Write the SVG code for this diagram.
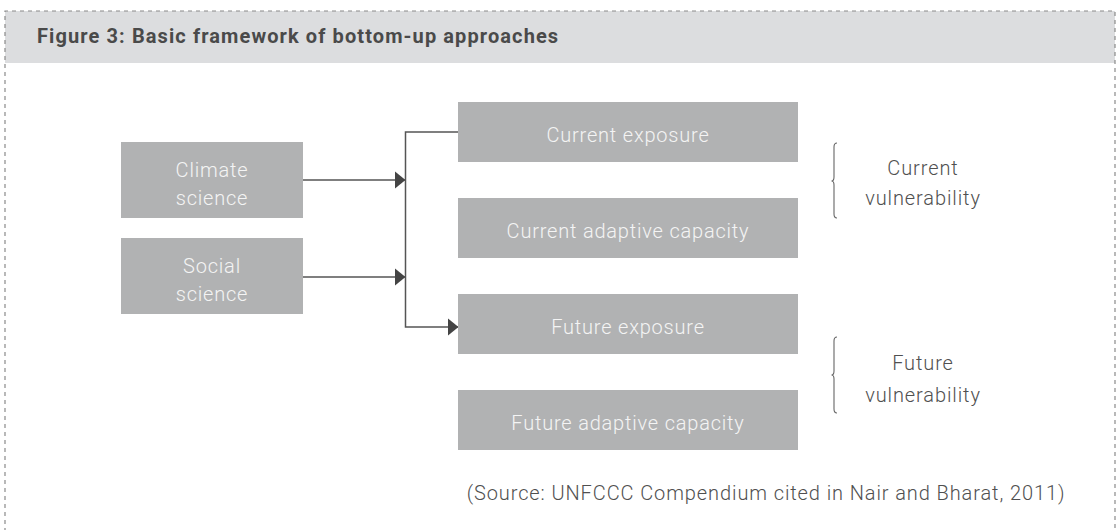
<svg xmlns="http://www.w3.org/2000/svg" width="1118" height="530" viewBox="0 0 1118 530">
<defs>
<style>
.box{fill:#b1b2b3}
.bt{font-family:Roboto,"Liberation Sans",sans-serif;font-weight:300;font-size:20px;letter-spacing:0.8px;fill:#f4f4f4;text-anchor:middle}
.lt{font-family:Roboto,"Liberation Sans",sans-serif;font-weight:300;font-size:20px;letter-spacing:0.9px;fill:#505050;text-anchor:middle}
.conn{fill:none;stroke:#555;stroke-width:1.5}
.brace{fill:none;stroke:#666;stroke-width:1.1}
</style>
<marker id="ah" viewBox="0 0 11 18" refX="10.5" refY="9" markerWidth="11" markerHeight="18" markerUnits="userSpaceOnUse" orient="auto">
<path d="M0,0 L11,9 L0,18 Z" fill="#444"/>
</marker>
</defs>
<rect x="0" y="0" width="1118" height="530" fill="#fff"/>
<g id="frame">
<rect x="5" y="11" width="1110" height="52" fill="#dcdddf"/>
<path d="M5,540 V11 H1115 V540" fill="none" stroke="#8a8a8a" stroke-width="1.2" stroke-dasharray="4 4"/>
<text x="37" y="43" style="font-family:Roboto,'Liberation Sans',sans-serif;font-weight:700;font-size:20px;letter-spacing:1.1px;fill:#4a4a4a">Figure 3: Basic framework of bottom-up approaches</text>
</g>
<g id="connectors">
<line class="conn" x1="303" y1="180" x2="405" y2="180" marker-end="url(#ah)"/>
<line class="conn" x1="303" y1="277" x2="405" y2="277" marker-end="url(#ah)"/>
<path class="conn" d="M458,132 H405.5 V327 H458" marker-end="url(#ah)"/>
</g>
<g id="climate-science">
<rect class="box" x="121" y="142" width="182" height="76"/>
<text class="bt" x="212" y="177">Climate</text>
<text class="bt" x="212" y="205">science</text>
</g>
<g id="social-science">
<rect class="box" x="121" y="238" width="182" height="76"/>
<text class="bt" x="212" y="273">Social</text>
<text class="bt" x="212" y="301">science</text>
</g>
<g id="current-exposure">
<rect class="box" x="458" y="102" width="340" height="60"/>
<text class="bt" x="628" y="142">Current exposure</text>
</g>
<g id="current-adaptive-capacity">
<rect class="box" x="458" y="198" width="340" height="60"/>
<text class="bt" x="628" y="238">Current adaptive capacity</text>
</g>
<g id="future-exposure">
<rect class="box" x="458" y="294" width="340" height="60"/>
<text class="bt" x="628" y="334">Future exposure</text>
</g>
<g id="future-adaptive-capacity">
<rect class="box" x="458" y="390" width="340" height="60"/>
<text class="bt" x="628" y="430">Future adaptive capacity</text>
</g>
<g id="current-vulnerability">
<path class="brace" d="M837,143 Q834,143 834,147 V177 Q834,181 831.5,181 Q834,181 834,185 V214 Q834,218 837,218"/>
<text class="lt" x="923" y="175">Current</text>
<text class="lt" x="923" y="205">vulnerability</text>
</g>
<g id="future-vulnerability">
<path class="brace" d="M837,337 Q834,337 834,341 V371 Q834,375 831.5,375 Q834,375 834,379 V409 Q834,413 837,413"/>
<text class="lt" x="923" y="370">Future</text>
<text class="lt" x="923" y="402">vulnerability</text>
</g>
<g id="source">
<text class="lt" x="766" y="500">(Source: UNFCCC Compendium cited in Nair and Bharat, 2011)</text>
</g>
</svg>
